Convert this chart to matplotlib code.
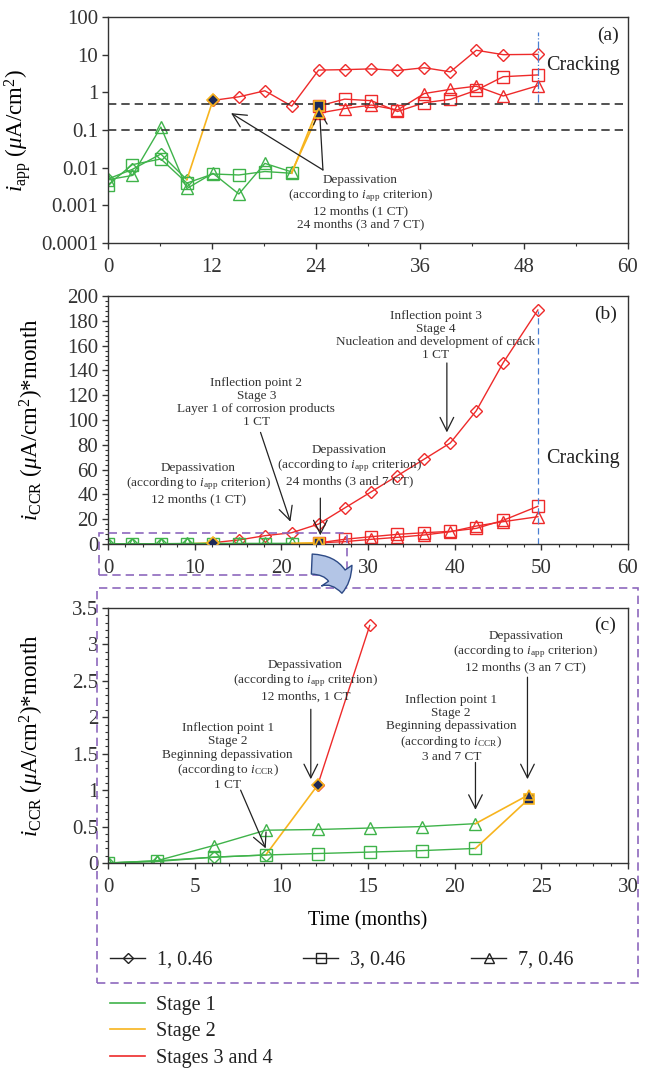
import matplotlib
matplotlib.use("Agg")
import matplotlib.pyplot as plt
from matplotlib.lines import Line2D
from matplotlib.patches import Rectangle, FancyArrowPatch
from matplotlib.ticker import MultipleLocator, FixedLocator, NullFormatter

plt.rcParams['font.family'] = ['Liberation Serif', 'DejaVu Serif']
plt.rcParams['mathtext.fontset'] = 'custom'
plt.rcParams['mathtext.rm'] = 'Liberation Serif'
plt.rcParams['mathtext.it'] = 'Liberation Serif:italic'
plt.rcParams['text.color'] = '#222222'
plt.rcParams['axes.edgecolor'] = '#333333'
plt.rcParams['xtick.color'] = '#333333'
plt.rcParams['ytick.color'] = '#333333'

# time of each measurement (months)
months = [0, 2.8, 6.1, 9.1, 12.1, 15.1, 18.1, 21.2, 24.3, 27.3, 30.4, 33.4,
          36.5, 39.5, 42.5, 45.6, 49.6]

# apparent corrosion current (uA/cm2)
iapp_1 = [0.005, 0.009, 0.023, 0.0048, 0.61, 0.76, 1.1, 0.43, 3.9, 4.0, 4.2,
          3.8, 4.5, 3.5, 13.1, 10.0, 10.2]
iapp_3 = [0.0035, 0.012, 0.017, 0.0039, 0.0068, 0.0064, 0.0079, 0.0071, 0.43,
          0.66, 0.6, 0.31, 0.53, 0.65, 1.14, 2.6, 2.9]
iapp_7 = [0.0048, 0.0062, 0.12, 0.0028, 0.0071, 0.002, 0.013, 0.0077, 0.28,
          0.37, 0.46, 0.34, 0.93, 1.2, 1.46, 0.8, 1.5]

# cumulative corrosion (uA/cm2 * month)
iccr_1 = [0, 0.02, 0.08, 0.11, 1.07, 3.26, 6.7, 9.1, 16.1, 29.0, 42.2, 55.1,
          68.5, 81.5, 107.5, 146.2, 188.7]
iccr_3 = [0, 0.03, 0.08, 0.11, 0.13, 0.15, 0.17, 0.2, 0.885, 3.8, 5.9, 7.8,
          9.1, 10.2, 12.6, 19.1, 30.4]
iccr_7 = [0, 0.03, 0.24, 0.45, 0.46, 0.48, 0.5, 0.54, 0.94, 1.9, 3.8, 5.4,
          7.3, 9.9, 14.5, 18.0, 22.0]

series_labels = ['1, 0.46', '3, 0.46', '7, 0.46']
stage_labels = ['Stage 1', 'Stage 2', 'Stages 3 and 4']
stage1_end = [3, 7, 7]   # index of last stage 1 point
stage2_end = [4, 8, 8]   # index of depassivation point
zoom_count = [6, 9, 9]   # points shown in panel (c)
thresholds = [0.5, 0.1]
crack_time = 49.6

log_ticks = [1e-4, 1e-3, 1e-2, 0.1, 1, 10, 100]
log_labels = ['0.0001', '0.001', '0.01', '0.1', '1', '10', '100']

GREEN = '#3fb34a'
YELLOW = '#f7b41e'
RED = '#ee2a2a'
NAVY = '#1d2a5a'
PURPLE = '#8d68bd'
BLUE = '#4a7fd0'
markers = ['D', 's', '^']
msizes = [6.5, 8, 8]

W, H = 651, 1068
fig = plt.figure(figsize=(W / 100, H / 100), dpi=100)


def px(x0, y0, w, h):
    return [x0 / W, 1 - (y0 + h) / H, w / W, h / H]


ax_a = fig.add_axes(px(108, 17, 520, 226))
ax_b = fig.add_axes(px(108, 296, 520, 248))
ax_c = fig.add_axes(px(108, 608, 520, 255))


def draw_series(ax, x, y, k, n=None):
    if n is not None:
        x, y = x[:n], y[:n]
    e1, e2 = stage1_end[k], stage2_end[k]
    kw = dict(marker=markers[k], ms=msizes[k], mfc='none', mew=1.0, lw=1.0)
    ax.plot(x[:e1 + 1], y[:e1 + 1], color=GREEN, **kw)
    ax.plot(x[e1:e2 + 1], y[e1:e2 + 1], color=YELLOW, lw=1.2)
    if len(x) > e2 + 1:
        ax.plot(x[e2:], y[e2:], color=RED, **kw)
    ax.plot(x[e2], y[e2], marker=markers[k], ms=msizes[k] - 0.5, mfc=NAVY,
            mec=YELLOW, mew=1.2, zorder=5)


def arrow(ax, start, end):
    ax.annotate('', xy=end, xytext=start,
                arrowprops=dict(arrowstyle='->,head_length=0.7,head_width=0.35',
                                color='#222222', lw=0.9, shrinkA=0, shrinkB=0,
                                mutation_scale=14))


def note(ax, x, y, s):
    ax.text(x, y, s, ha='center', va='center', fontsize=9.5, linespacing=1.12,
            color='#333333')


for ax in (ax_a, ax_b, ax_c):
    ax.tick_params(direction='out', labelsize=15, length=4, width=1, pad=3)
    ax.tick_params(axis='x', pad=7)
    ax.tick_params(which='minor', direction='out', length=2.2, width=0.8)
    for sp in ax.spines.values():
        sp.set_linewidth(1.0)

# ---------- panel (a) ----------
for k, y in enumerate([iapp_1, iapp_3, iapp_7]):
    draw_series(ax_a, months, y, k)
for t in thresholds:
    ax_a.axhline(t, color='#333333', ls=(0, (5, 3)), lw=1.2)
ax_a.plot([crack_time, crack_time], [0.55, 40], color=BLUE, ls='-.', lw=0.9)
ax_a.set_yscale('log')
ax_a.set_ylim(1e-4, 100)
ax_a.set_xlim(0, 60)
ax_a.yaxis.set_major_locator(FixedLocator(log_ticks))
ax_a.set_yticklabels(log_labels)
ax_a.yaxis.set_minor_formatter(NullFormatter())
ax_a.xaxis.set_major_locator(MultipleLocator(12))
ax_a.xaxis.set_minor_locator(MultipleLocator(6))
ax_a.set_ylabel(r'$i_{\mathrm{app}}$ ($\mu$A/cm$^2$)', fontsize=16.5)
ax_a.yaxis.set_label_coords(-0.145, 0.5)
ax_a.text(57.7, 33, '(a)', fontsize=14, ha='center', va='center')
ax_a.text(50.6, 5.3, 'Cracking', fontsize=14.5, ha='left', va='center')
note(ax_a, 29.1, 0.00123,
     'Depassivation\n(according to $i_{\\mathrm{app}}$ criterion)\n'
     '12 months (1 CT)\n24 months (3 and 7 CT)')
arrow(ax_a, (24.8, 0.0087), (14.2, 0.28))
arrow(ax_a, (24.8, 0.0087), (24.4, 0.35))

# ---------- panel (b) ----------
for k, y in enumerate([iccr_1, iccr_3, iccr_7]):
    draw_series(ax_b, months, y, k)
ax_b.plot([crack_time, crack_time], [0, 188], color=BLUE, ls=(0, (5, 3)), lw=0.9)
ax_b.set_xlim(0, 60)
ax_b.set_ylim(0, 200)
ax_b.xaxis.set_major_locator(MultipleLocator(10))
ax_b.xaxis.set_minor_locator(MultipleLocator(2))
ax_b.yaxis.set_major_locator(MultipleLocator(20))
ax_b.yaxis.set_minor_locator(MultipleLocator(4))
ax_b.set_ylabel(r'$i_{\mathrm{CCR}}$ ($\mu$A/cm$^2$)*month', fontsize=16.5)
ax_b.yaxis.set_label_coords(-0.12, 0.5)
ax_b.text(57.4, 185, '(b)', fontsize=14, ha='center', va='center')
ax_b.text(50.5, 69, 'Cracking', fontsize=14.5, ha='left', va='center')
note(ax_b, 37.8, 168,
     'Inflection point 3\nStage 4\nNucleation and development of crack\n1 CT')
arrow(ax_b, (39.1, 146), (39.1, 90))
note(ax_b, 17.1, 114,
     'Inflection point 2\nStage 3\nLayer 1 of corrosion products\n1 CT')
arrow(ax_b, (17.6, 90), (21.05, 18))
note(ax_b, 27.85, 63,
     'Depassivation\n(according to $i_{\\mathrm{app}}$ criterion)\n24 months (3 and 7 CT)')
arrow(ax_b, (24.5, 37), (24.5, 7))
note(ax_b, 10.4, 48.5,
     'Depassivation\n(according to $i_{\\mathrm{app}}$ criterion)\n12 months (1 CT)')
arrow(ax_b, (12.2, 30), (12.2, -2))

# ---------- panel (c) ----------
for k, y in enumerate([iccr_1, iccr_3, iccr_7]):
    draw_series(ax_c, months, y, k, zoom_count[k])
ax_c.set_xlim(0, 30)
ax_c.set_ylim(0, 3.5)
ax_c.xaxis.set_major_locator(MultipleLocator(5))
ax_c.xaxis.set_minor_locator(MultipleLocator(1))
ax_c.yaxis.set_major_locator(MultipleLocator(0.5))
ax_c.yaxis.set_minor_locator(MultipleLocator(0.1))
ax_c.set_yticks([0, 0.5, 1, 1.5, 2, 2.5, 3, 3.5])
ax_c.set_yticklabels(['0', '0.5', '1', '1.5', '2', '2.5', '3', '3.5'])
ax_c.set_ylabel(r'$i_{\mathrm{CCR}}$ ($\mu$A/cm$^2$)*month', fontsize=16.5)
ax_c.yaxis.set_label_coords(-0.12, 0.5)
ax_c.set_xlabel('Time (months)', fontsize=14.5, labelpad=10)
ax_c.text(28.7, 3.26, '(c)', fontsize=14, ha='center', va='center')
note(ax_c, 24.1, 2.905,
     'Depassivation\n(according to $i_{\\mathrm{app}}$ criterion)\n12 months (3 an 7 CT)')
arrow(ax_c, (24.2, 2.55), (24.2, 1.15))
note(ax_c, 11.4, 2.5,
     'Depassivation\n(according to $i_{\\mathrm{app}}$ criterion)\n12 months, 1 CT')
arrow(ax_c, (11.7, 2.11), (11.7, 1.15))
note(ax_c, 19.8, 1.845,
     'Inflection point 1\nStage 2\nBeginning depassivation\n'
     '(according to $i_{\\mathrm{CCR}}$)\n3 and 7 CT')
arrow(ax_c, (21.2, 1.38), (21.2, 0.73))
note(ax_c, 6.9, 1.46,
     'Inflection point 1\nStage 2\nBeginning depassivation\n'
     '(according to $i_{\\mathrm{CCR}}$)\n1 CT')
arrow(ax_c, (7.65, 1.0), (9.1, 0.2))

# ---------- zoom boxes and arrow ----------
fig.patches.append(Rectangle((97 / W, 1 - 983 / H), 541 / W, 395 / H,
                             transform=fig.transFigure, fill=False, ec=PURPLE,
                             ls=(0, (5, 3)), lw=1.2))
fig.patches.append(Rectangle((99 / W, 1 - 575 / H), 248 / W, 42 / H,
                             transform=fig.transFigure, fill=False, ec=PURPLE,
                             ls=(0, (5, 3)), lw=1.2, zorder=10))
fig.patches.append(FancyArrowPatch((309 / W, 1 - 564 / H), (342 / W, 1 - 596 / H),
                                   transform=fig.transFigure,
                                   connectionstyle='angle3,angleA=0,angleB=90',
                                   arrowstyle='simple,head_length=0.55,head_width=1.1,tail_width=0.6',
                                   mutation_scale=24, fc='#b3c5e6', ec='#2d4a86',
                                   lw=1.0, zorder=11))

# ---------- legends ----------
legend_x = [110, 303, 471]
for k, lab in enumerate(series_labels):
    h = Line2D([], [], color='#222222', lw=1.0, marker=markers[k],
               ms=msizes[k] - 1.5, mfc='none', mec='#222222')
    fig.legend([h], [lab], loc='center left', frameon=False, fontsize=14.5,
               bbox_to_anchor=(legend_x[k] / W, 1 - 960 / H), borderpad=0,
               borderaxespad=0, handlelength=1.75, handletextpad=0.6)

stage_handles = [Line2D([], [], color=c, lw=1.2) for c in (GREEN, YELLOW, RED)]
fig.legend(stage_handles, stage_labels, loc='upper left', frameon=False,
           fontsize=14.5, bbox_to_anchor=(110 / W, 1 - 996 / H), borderpad=0,
           borderaxespad=0, handlelength=1.75, handletextpad=0.55,
           labelspacing=0.36)

fig.savefig('out.png', dpi=100)
